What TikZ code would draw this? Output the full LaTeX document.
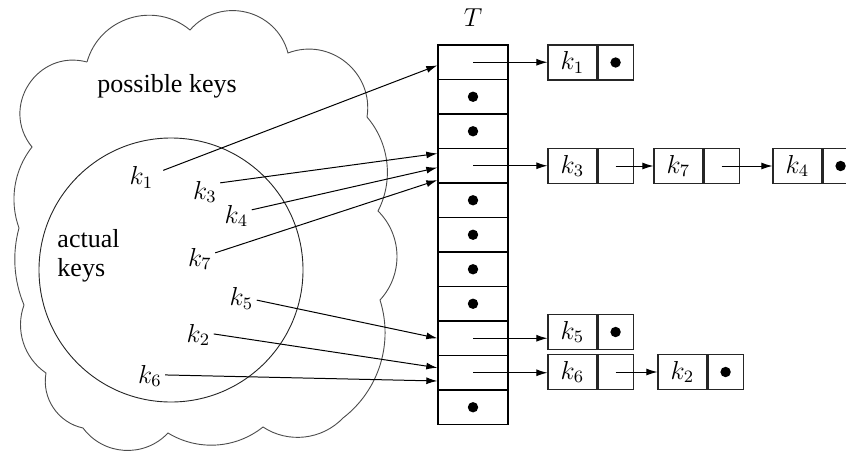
\documentclass[tikz,border=0pt]{standalone}
\usepackage[no-math]{fontspec}
\setmainfont{Liberation Serif}
\usetikzlibrary{arrows.meta}
\newdimen\pxu
\pxu=0.4615pt
\tikzset{
  every node/.style={font=\fontsize{12}{13.4}\selectfont},
  cloudline/.style={draw=black!70, line width=0.42pt},
  ringline/.style={draw=black!85, line width=0.42pt},
  cell/.style={draw, line width=0.6pt, rectangle, minimum width=70*\pxu, minimum height=34.5*\pxu, inner sep=0pt},
  keycell/.style={draw=black!85, line width=0.5pt, rectangle, minimum width=49*\pxu, minimum height=35*\pxu, inner sep=0pt},
  ptrcell/.style={draw=black!85, line width=0.5pt, rectangle, minimum width=35*\pxu, minimum height=35*\pxu, inner sep=0pt, anchor=west},
  lbl/.style={inner sep=1.4pt},
  arr/.style={line width=0.46pt, -{Latex[length=5.1pt,width=3.2pt]}},
  nil/.style={fill=black}
}
\begin{document}
\begin{tikzpicture}[x=0.4615pt, y=-0.4615pt]
\path[use as bounding box, clip] (0,0) rectangle (846,453);

% cloud of possible keys
\draw[cloudline] (87,62)
  to[bend left=57, looseness=1.10] (190,30)
  to[bend left=62, looseness=1.16] (288,53)
  to[bend left=60, looseness=1.13] (367,117)
  to[bend left=34, looseness=0.93] (378,211)
  to[bend left=44, looseness=0.99] (380,300)
  to[bend left=35, looseness=0.94] (343,418)
  to[bend left=40, looseness=0.96] (263,427)
  to[bend left=35, looseness=0.94] (168,433)
  to[bend left=50, looseness=1.04] (83,428)
  to[bend left=44, looseness=0.99] (46,373)
  to[bend left=38, looseness=0.95] (24,305)
  to[bend left=19, looseness=0.88] (19,228)
  to[bend left=29, looseness=0.91] (32,147)
  to[bend left=72, looseness=1.30] (87,62);

% circle of actual keys
\draw[ringline] (171,270) circle[radius=132];

\node (pk) at (167,86) {possible keys};
\node[align=left, anchor=west, inner sep=1.4pt] (ak) at (54,256) {actual\\keys};

% key labels
\node[lbl] (k1) at (141.5,177.5) {$k_1$};
\node[lbl] (k3) at (205,192) {$k_3$};
\node[lbl] (k4) at (236.5,216) {$k_4$};
\node[lbl] (k7) at (200,259) {$k_7$};
\node[lbl] (k5) at (241.5,298.5) {$k_5$};
\node[lbl] (k2) at (198.5,335) {$k_2$};
\node[lbl] (k6) at (150,376) {$k_6$};

% table T
\node (T) at (473,18) {$T$};
\foreach \i in {1,...,11}
  \node[cell] (r\i) at (473,{45+34.5*(\i-0.5)}) {};
\foreach \i in {2,3,5,6,7,8,11}
  \fill[nil] (r\i.center) circle[radius=5.2];

% chains
\node[keycell] (c1k) at (572.5,62.5) {$k_1$};
\node[ptrcell] (c1p) at (c1k.east) {};
\node[keycell] (c3k) at (572.5,166) {$k_3$};
\node[ptrcell] (c3p) at (c3k.east) {};
\node[keycell] (c7k) at (678.5,166) {$k_7$};
\node[ptrcell] (c7p) at (c7k.east) {};
\node[keycell] (c4k) at (797.5,166) {$k_4$};
\node[ptrcell] (c4p) at (c4k.east) {};
\node[keycell] (c5k) at (572.5,332) {$k_5$};
\node[ptrcell] (c5p) at (c5k.east) {};
\node[keycell] (c6k) at (572.5,372) {$k_6$};
\node[ptrcell] (c6p) at (c6k.east) {};
\node[keycell] (c2k) at (682.5,372) {$k_2$};
\node[ptrcell] (c2p) at (c2k.east) {};
\foreach \n in {c1p,c4p,c5p,c2p}
  \fill[nil] (\n.center) circle[radius=5.2];

% table to chains
\draw[arr] (r1.center) -- (r1.center -| c1k.west);
\draw[arr] (r4.center) -- (r4.center -| c3k.west);
\draw[arr] (r9.center) -- (r9.center -| c5k.west);
\draw[arr] (r10.center) -- (r10.center -| c6k.west);
\draw[arr] (c3p.center) -- (c7k.west);
\draw[arr] (c7p.center) -- (c4k.west);
\draw[arr] (c6p.center) -- (c2k.west);

% keys to table slots
\draw[arr, shorten <=3.2pt] (k1.17) -- (r1.185);
\draw[arr] (k3.31) -- (r4.161);
\draw[arr] (k4.22) -- (r4.183);
\draw[arr] (k7.22) -- (r4.202);
\draw[arr] (k5.-6) -- (r9.west);
\draw[arr] (k2.4) -- (r10.172);
\draw[arr] (k6.4) -- (r10.193);
\end{tikzpicture}
\end{document}
